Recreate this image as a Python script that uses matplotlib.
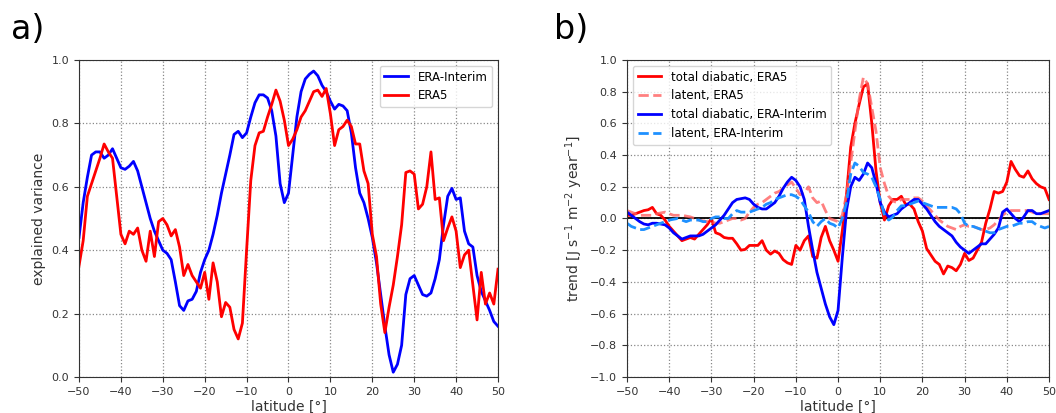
import numpy as np
import matplotlib
matplotlib.use("Agg")
from matplotlib import pyplot as plt

# latitude grid, 1 degree steps
lat = np.arange(-50, 51, 1)

# panel a: explained variance
ev_erai = [0.44, 0.55, 0.63, 0.70, 0.71, 0.71, 0.69, 0.70, 0.72, 0.69,
           0.66, 0.655, 0.665, 0.68, 0.65, 0.60, 0.55, 0.50, 0.46, 0.43,
           0.40, 0.39, 0.37, 0.30, 0.225, 0.21, 0.24, 0.245, 0.27, 0.33,
           0.37, 0.40, 0.45, 0.51, 0.58, 0.64, 0.70, 0.765, 0.775, 0.755,
           0.77, 0.82, 0.865, 0.89, 0.89, 0.88, 0.84, 0.76, 0.61, 0.55,
           0.58, 0.70, 0.82, 0.90, 0.94, 0.955, 0.965, 0.95, 0.92, 0.90,
           0.87, 0.845, 0.86, 0.855, 0.84, 0.77, 0.66, 0.58, 0.55, 0.50,
           0.44, 0.36, 0.26, 0.16, 0.07, 0.015, 0.04, 0.10, 0.26, 0.31,
           0.32, 0.29, 0.26, 0.255, 0.265, 0.31, 0.37, 0.48, 0.57, 0.595,
           0.56, 0.565, 0.46, 0.42, 0.41, 0.32, 0.27, 0.24, 0.21, 0.175,
           0.16]
ev_era5 = [0.35, 0.43, 0.57, 0.61, 0.65, 0.69, 0.735, 0.71, 0.69, 0.57,
           0.45, 0.42, 0.46, 0.45, 0.47, 0.40, 0.365, 0.46, 0.38, 0.49,
           0.50, 0.48, 0.445, 0.465, 0.41, 0.32, 0.355, 0.32, 0.30, 0.28,
           0.33, 0.245, 0.36, 0.30, 0.19, 0.235, 0.22, 0.15, 0.12, 0.17,
           0.40, 0.62, 0.73, 0.77, 0.775, 0.82, 0.86, 0.905, 0.87, 0.81,
           0.73, 0.75, 0.78, 0.82, 0.84, 0.87, 0.90, 0.905, 0.885, 0.91,
           0.83, 0.73, 0.78, 0.79, 0.81, 0.79, 0.735, 0.735, 0.65, 0.61,
           0.45, 0.38, 0.23, 0.14, 0.22, 0.29, 0.38, 0.48, 0.645, 0.65,
           0.64, 0.53, 0.545, 0.60, 0.71, 0.56, 0.565, 0.43, 0.47, 0.505,
           0.46, 0.345, 0.385, 0.40, 0.29, 0.18, 0.33, 0.23, 0.265, 0.23,
           0.34]

# panel b: trends
tot_era5 = [0.02, 0.02, 0.03, 0.04, 0.05, 0.055, 0.07, 0.03, 0.02, -0.01,
            -0.05, -0.08, -0.11, -0.14, -0.13, -0.12, -0.13, -0.10, -0.07, -0.04,
            0.00, -0.09, -0.10, -0.12, -0.125, -0.125, -0.16, -0.20, -0.195, -0.17,
            -0.17, -0.17, -0.14, -0.20, -0.225, -0.205, -0.22, -0.26, -0.28, -0.29,
            -0.17, -0.20, -0.14, -0.11, -0.24, -0.25, -0.12, -0.05, -0.14, -0.20,
            -0.27, -0.08, 0.15, 0.45, 0.60, 0.72, 0.83, 0.85, 0.60, 0.30,
            0.10, -0.01, 0.08, 0.12, 0.12, 0.14, 0.09, 0.09, 0.06, -0.02,
            -0.08, -0.19, -0.23, -0.27, -0.29, -0.35, -0.30, -0.31, -0.33, -0.29,
            -0.22, -0.265, -0.25, -0.20, -0.15, -0.03, 0.06, 0.17, 0.16, 0.17,
            0.23, 0.36, 0.31, 0.27, 0.26, 0.30, 0.25, 0.22, 0.20, 0.19,
            0.12]
lat_era5 = [0.05, 0.04, 0.03, 0.02, 0.02, 0.02, 0.02, 0.03, 0.035, 0.04,
            0.03, 0.02, 0.02, 0.02, 0.015, 0.01, 0.00, -0.01, -0.015, -0.02,
            -0.02, -0.03, -0.03, -0.02, -0.01, 0.00, 0.00, -0.01, 0.00, 0.04,
            0.07, 0.09, 0.10, 0.12, 0.14, 0.16, 0.17, 0.19, 0.21, 0.23,
            0.19, 0.15, 0.16, 0.20, 0.13, 0.10, 0.11, 0.05, 0.00, -0.01,
            -0.02, 0.02, 0.15, 0.35, 0.55, 0.75, 0.89, 0.85, 0.70, 0.55,
            0.32, 0.22, 0.14, 0.11, 0.10, 0.12, 0.12, 0.12, 0.13, 0.13,
            0.11, 0.08, 0.05, 0.02, -0.01, -0.03, -0.05, -0.06, -0.07, -0.05,
            -0.04, -0.05, -0.05, -0.06, -0.07, -0.07, -0.06, -0.04, -0.01, 0.02,
            0.04, 0.05, 0.05, 0.05, 0.05, 0.05, 0.04, 0.03, 0.03, 0.03,
            0.03]
tot_erai = [0.04, 0.02, 0.00, -0.02, -0.035, -0.04, -0.03, -0.03, -0.035, -0.04,
            -0.06, -0.09, -0.11, -0.13, -0.12, -0.11, -0.11, -0.11, -0.10, -0.08,
            -0.06, -0.04, -0.01, 0.02, 0.06, 0.10, 0.12, 0.125, 0.13, 0.12,
            0.09, 0.07, 0.06, 0.06, 0.08, 0.10, 0.14, 0.19, 0.23, 0.26,
            0.24, 0.20, 0.12, -0.05, -0.20, -0.34, -0.44, -0.54, -0.62, -0.67,
            -0.58, -0.25, 0.05, 0.20, 0.26, 0.24, 0.28, 0.35, 0.32, 0.22,
            0.10, 0.04, 0.01, 0.02, 0.03, 0.06, 0.08, 0.10, 0.12, 0.12,
            0.09, 0.06, 0.02, -0.02, -0.05, -0.07, -0.09, -0.11, -0.15, -0.18,
            -0.20, -0.22, -0.20, -0.18, -0.16, -0.16, -0.13, -0.10, -0.06, 0.04,
            0.06, 0.03, 0.00, -0.02, 0.01, 0.05, 0.05, 0.03, 0.03, 0.04,
            0.05]
lat_erai = [-0.03, -0.05, -0.06, -0.07, -0.07, -0.06, -0.05, -0.04, -0.03, -0.02,
            -0.01, -0.005, 0.00, -0.01, -0.02, -0.01, -0.01, -0.01, -0.02, -0.02,
            0.00, 0.01, 0.01, 0.00, 0.00, 0.03, 0.05, 0.04, 0.04, 0.04,
            0.05, 0.06, 0.07, 0.09, 0.10, 0.12, 0.13, 0.14, 0.15, 0.15,
            0.14, 0.12, 0.08, 0.04, -0.02, -0.05, -0.02, 0.00, -0.03, -0.04,
            -0.06, 0.00, 0.10, 0.28, 0.35, 0.33, 0.29, 0.28, 0.26, 0.20,
            0.12, 0.02, -0.01, 0.01, 0.05, 0.08, 0.08, 0.09, 0.10, 0.11,
            0.10, 0.09, 0.08, 0.07, 0.07, 0.07, 0.07, 0.07, 0.06, 0.03,
            -0.03, -0.05, -0.05, -0.06, -0.07, -0.08, -0.09, -0.09, -0.07, -0.06,
            -0.05, -0.05, -0.04, -0.03, -0.03, -0.02, -0.02, -0.04, -0.05, -0.06,
            -0.05]

plt.rcParams['font.family'] = 'DejaVu Sans'
plt.rcParams['axes.edgecolor'] = '#333333'
plt.rcParams['xtick.color'] = '#333333'
plt.rcParams['ytick.color'] = '#333333'

fig = plt.figure(figsize=(10.56, 4.13), dpi=100)
ax1 = fig.add_axes([0.0748, 0.0872, 0.3968, 0.7676])
ax2 = fig.add_axes([0.5938, 0.0872, 0.3996, 0.7676])

# --- a) ---
ax1.plot(lat, ev_erai, color='b', lw=2, label='ERA-Interim')
ax1.plot(lat, ev_era5, color='r', lw=2, label='ERA5')
ax1.set_xlim(-50, 50)
ax1.set_ylim(0, 1)
ax1.set_xticks(np.arange(-50, 51, 10))
ax1.set_yticks(np.arange(0, 1.01, 0.2))
ax1.grid(True, ls=':', color='#888888', lw=0.9)
ax1.set_xlabel('latitude [°]', fontsize=10, color='#333333', labelpad=2)
ax1.set_ylabel('explained variance', fontsize=10, color='#333333')
ax1.tick_params(labelsize=8)
ax1.legend(loc='upper right', fontsize=8.5)

# --- b) ---
ax2.axhline(0, color='k', lw=1.3)
ax2.plot(lat, tot_era5, color='r', lw=2, label='total diabatic, ERA5')
ax2.plot(lat, lat_era5, color='#ff6060', lw=2, ls='--', alpha=0.8, label='latent, ERA5')
ax2.plot(lat, tot_erai, color='b', lw=2, label='total diabatic, ERA-Interim')
ax2.plot(lat, lat_erai, color='#1e90ff', lw=2, ls='--', label='latent, ERA-Interim')
ax2.set_xlim(-50, 50)
ax2.set_ylim(-1, 1)
ax2.set_xticks(np.arange(-50, 51, 10))
ax2.set_yticks(np.arange(-1, 1.01, 0.2))
ax2.grid(True, ls=':', color='#888888', lw=0.9)
ax2.set_xlabel('latitude [°]', fontsize=10, color='#333333', labelpad=2)
ax2.set_ylabel('trend [J s$^{-1}$ m$^{-2}$ year$^{-1}$]', fontsize=10, color='#333333')
ax2.tick_params(labelsize=8)
ax2.legend(loc='upper left', fontsize=8.5)

fig.text(0.010, 0.905, 'a)', fontsize=24)
fig.text(0.525, 0.905, 'b)', fontsize=24)

fig.savefig('out.png', dpi=100)
